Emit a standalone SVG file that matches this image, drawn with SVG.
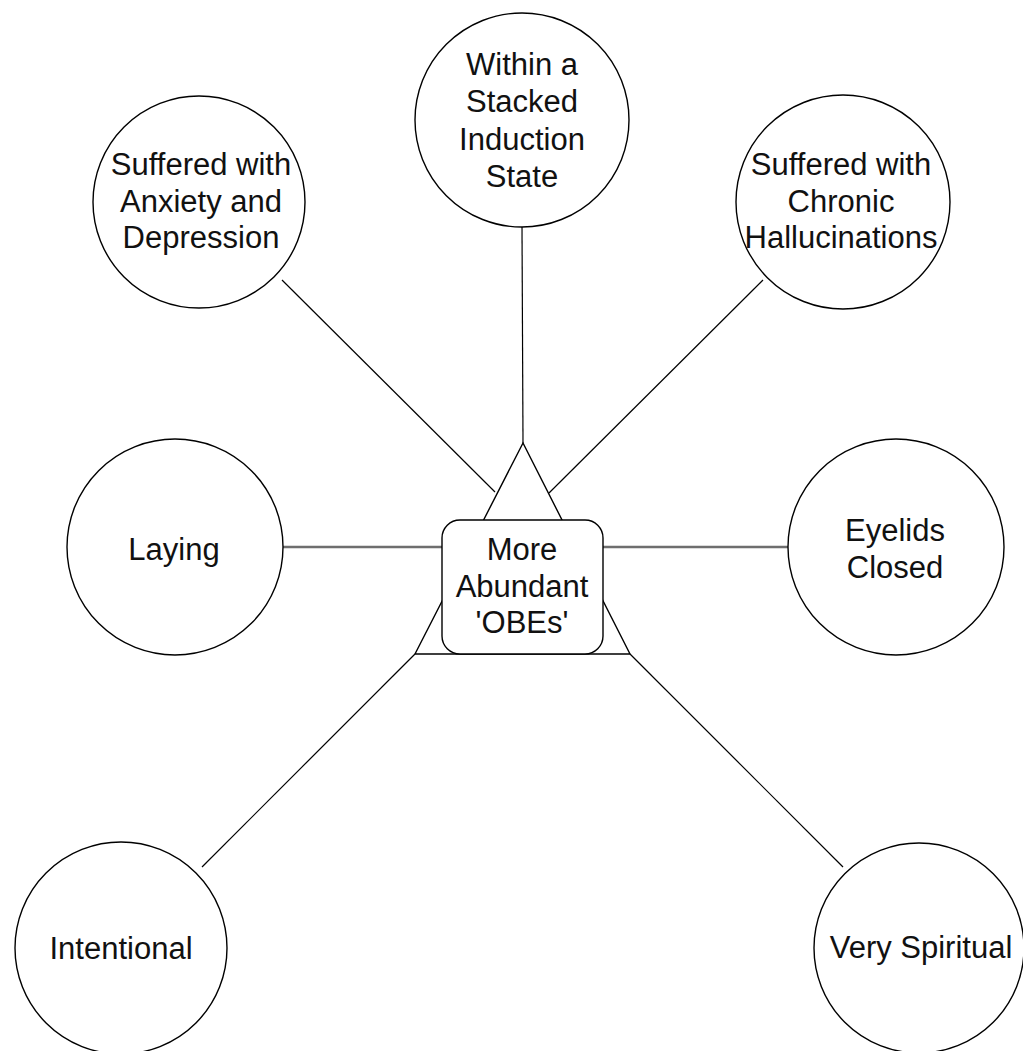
<svg xmlns="http://www.w3.org/2000/svg" width="1023" height="1051" viewBox="0 0 1023 1051">
  <style>
    .node { fill: #ffffff; stroke: #000000; stroke-width: 1.4; }
    .edge { stroke: #000000; stroke-width: 1.2; fill: none; }
    .edge-h { stroke: #6e6e6e; stroke-width: 2.4; fill: none; }
    .lbl { font-family: "Liberation Sans", Arial, sans-serif; font-size: 31px; fill: #111111; text-anchor: middle; }
  </style>
  <rect x="0" y="0" width="1023" height="1051" fill="#ffffff"/>

  <!-- connectors -->
  <g id="connectors">
    <line class="edge" x1="522" y1="227" x2="523" y2="443"/>
    <line class="edge" x1="282" y1="280" x2="495" y2="492"/>
    <line class="edge" x1="763" y1="280" x2="549" y2="493"/>
    <line class="edge-h" x1="283" y1="547" x2="442" y2="547"/>
    <line class="edge-h" x1="603" y1="547" x2="788" y2="547"/>
    <line class="edge" x1="202" y1="867" x2="415" y2="654"/>
    <line class="edge" x1="630" y1="654" x2="843" y2="867"/>
  </g>

  <!-- triangle behind the hub -->
  <g id="hub-triangle">
    <polygon class="node" points="523,443 415,654 630,654"/>
  </g>

  <g id="hub">
    <rect class="node" x="442" y="520" width="161" height="134" rx="18" ry="18"/>
    <text class="lbl"><tspan x="522" y="560">More</tspan><tspan x="522" y="597">Abundant</tspan><tspan x="522" y="633">'OBEs'</tspan></text>
  </g>

  <g id="stacked-induction">
    <circle class="node" cx="522" cy="120" r="107"/>
    <text class="lbl"><tspan x="522" y="75">Within a</tspan><tspan x="522" y="112">Stacked</tspan><tspan x="522" y="150">Induction</tspan><tspan x="522" y="187">State</tspan></text>
  </g>

  <g id="anxiety-depression">
    <circle class="node" cx="199" cy="202" r="106"/>
    <text class="lbl"><tspan x="201" y="175">Suffered with</tspan><tspan x="201" y="212">Anxiety and</tspan><tspan x="201" y="248">Depression</tspan></text>
  </g>

  <g id="chronic-hallucinations">
    <circle class="node" cx="843" cy="202" r="107"/>
    <text class="lbl"><tspan x="841" y="175">Suffered with</tspan><tspan x="841" y="212">Chronic</tspan><tspan x="841" y="248">Hallucinations</tspan></text>
  </g>

  <g id="laying">
    <circle class="node" cx="175" cy="547" r="108"/>
    <text class="lbl" x="174" y="560">Laying</text>
  </g>

  <g id="eyelids-closed">
    <circle class="node" cx="896" cy="547" r="108"/>
    <text class="lbl"><tspan x="895" y="541">Eyelids</tspan><tspan x="895" y="578">Closed</tspan></text>
  </g>

  <g id="intentional">
    <circle class="node" cx="121" cy="948" r="106"/>
    <text class="lbl" x="121" y="959">Intentional</text>
  </g>

  <g id="very-spiritual">
    <circle class="node" cx="919" cy="948" r="105"/>
    <text class="lbl" x="921" y="958">Very Spiritual</text>
  </g>
</svg>
